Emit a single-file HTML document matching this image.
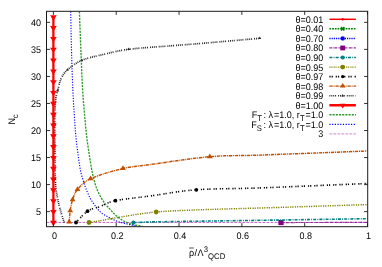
<!DOCTYPE html>
<html><head><meta charset="utf-8"><title>plot</title>
<style>html,body{margin:0;padding:0;background:#fff;}body{width:382px;height:267px;overflow:hidden;font-family:"Liberation Sans", sans-serif;}</style>
</head><body>
<svg width="382" height="267" viewBox="0 0 382 267" style="display:block;will-change:transform">
<rect x="0" y="0" width="382" height="267" fill="#ffffff"/>
<defs><clipPath id="cp"><rect x="46.50" y="11.30" width="321.20" height="215.40"/></clipPath></defs>
<g clip-path="url(#cp)">
<path d="M46.50,222.47 L367.70,222.47" fill="none" stroke="#b040b0" stroke-width="0.90" stroke-linecap="butt" stroke-linejoin="round" stroke-dasharray="2.8 1.2" stroke-opacity="0.85"/>
<path d="M79.40,11.50 L79.47,13.35 L79.56,15.66 L79.66,18.36 L79.78,21.39 L79.90,24.69 L80.04,28.19 L80.18,31.83 L80.32,35.56 L80.47,39.30 L80.62,42.99 L80.76,46.58 L80.90,50.00 L81.03,53.33 L81.16,56.70 L81.29,60.10 L81.42,63.52 L81.55,66.96 L81.68,70.41 L81.82,73.86 L81.97,77.31 L82.13,80.76 L82.30,84.20 L82.49,87.61 L82.70,91.00 L82.93,94.43 L83.18,97.96 L83.46,101.54 L83.74,105.15 L84.04,108.75 L84.35,112.31 L84.66,115.80 L84.97,119.19 L85.27,122.43 L85.56,125.50 L85.84,128.37 L86.10,131.00 L86.34,133.37 L86.57,135.49 L86.79,137.41 L87.00,139.15 L87.20,140.75 L87.41,142.25 L87.61,143.68 L87.81,145.07 L88.02,146.47 L88.24,147.90 L88.46,149.40 L88.70,151.00 L88.95,152.68 L89.20,154.39 L89.47,156.12 L89.73,157.86 L90.01,159.60 L90.28,161.33 L90.56,163.04 L90.84,164.73 L91.13,166.37 L91.42,167.97 L91.71,169.52 L92.00,171.00 L92.29,172.43 L92.59,173.82 L92.90,175.19 L93.20,176.51 L93.51,177.80 L93.82,179.05 L94.14,180.26 L94.45,181.43 L94.77,182.56 L95.08,183.65 L95.39,184.70 L95.70,185.70 L96.01,186.65 L96.31,187.53 L96.62,188.36 L96.92,189.14 L97.22,189.88 L97.53,190.58 L97.83,191.26 L98.14,191.92 L98.45,192.56 L98.76,193.21 L99.08,193.85 L99.40,194.50 L99.73,195.15 L100.06,195.79 L100.39,196.41 L100.73,197.02 L101.06,197.62 L101.41,198.21 L101.75,198.78 L102.10,199.34 L102.44,199.90 L102.79,200.44 L103.15,200.97 L103.50,201.50 L103.85,202.00 L104.18,202.47 L104.50,202.92 L104.82,203.34 L105.14,203.76 L105.47,204.17 L105.81,204.59 L106.17,205.02 L106.55,205.47 L106.97,205.94 L107.41,206.45 L107.90,207.00 L108.43,207.60 L109.00,208.24 L109.61,208.92 L110.24,209.63 L110.90,210.35 L111.58,211.09 L112.27,211.82 L112.97,212.55 L113.66,213.26 L114.35,213.95 L115.04,214.60 L115.70,215.20 L116.35,215.77 L117.01,216.32 L117.67,216.86 L118.33,217.37 L118.98,217.87 L119.64,218.36 L120.30,218.82 L120.96,219.27 L121.62,219.70 L122.28,220.12 L122.94,220.52 L123.60,220.90 L124.27,221.27 L124.94,221.61 L125.63,221.95 L126.32,222.26 L127.01,222.56 L127.70,222.84 L128.38,223.10 L129.04,223.35 L129.69,223.59 L130.32,223.81 L130.93,224.01 L131.50,224.20 L132.04,224.37 L132.56,224.51 L133.04,224.63 L133.51,224.74 L133.96,224.82 L134.40,224.90 L134.83,224.97 L135.26,225.03 L135.68,225.09 L136.11,225.15 L136.55,225.22 L137.00,225.30 L137.48,225.38 L137.98,225.47 L138.50,225.56 L139.04,225.65 L139.57,225.73 L140.09,225.82 L140.60,225.90 L141.07,225.97 L141.51,226.04 L141.90,226.10 L142.23,226.16 L142.50,226.20" fill="none" stroke="#2a9a2a" stroke-width="1.35" stroke-linecap="butt" stroke-linejoin="round" stroke-dasharray="2.1 1.1"/>
<path d="M70.70,11.50 L70.74,13.35 L70.78,15.66 L70.83,18.36 L70.89,21.39 L70.95,24.69 L71.01,28.19 L71.08,31.83 L71.16,35.56 L71.24,39.30 L71.32,42.99 L71.41,46.58 L71.50,50.00 L71.59,53.33 L71.69,56.70 L71.78,60.10 L71.88,63.52 L71.99,66.96 L72.09,70.41 L72.21,73.86 L72.33,77.31 L72.46,80.76 L72.60,84.20 L72.74,87.61 L72.90,91.00 L73.07,94.43 L73.26,97.96 L73.45,101.54 L73.66,105.15 L73.88,108.75 L74.10,112.31 L74.32,115.80 L74.55,119.19 L74.77,122.43 L74.99,125.50 L75.20,128.37 L75.40,131.00 L75.59,133.37 L75.77,135.49 L75.95,137.41 L76.13,139.15 L76.30,140.75 L76.47,142.25 L76.64,143.68 L76.82,145.07 L77.00,146.47 L77.19,147.90 L77.39,149.40 L77.60,151.00 L77.82,152.68 L78.04,154.39 L78.26,156.12 L78.49,157.86 L78.73,159.60 L78.97,161.33 L79.22,163.04 L79.47,164.73 L79.74,166.37 L80.02,167.97 L80.30,169.52 L80.60,171.00 L80.92,172.43 L81.25,173.83 L81.61,175.20 L81.97,176.53 L82.35,177.82 L82.73,179.08 L83.11,180.30 L83.49,181.47 L83.86,182.60 L84.23,183.68 L84.57,184.72 L84.90,185.70 L85.21,186.62 L85.50,187.46 L85.78,188.24 L86.05,188.97 L86.31,189.65 L86.57,190.30 L86.83,190.92 L87.09,191.53 L87.35,192.13 L87.62,192.74 L87.90,193.36 L88.20,194.00 L88.50,194.64 L88.78,195.27 L89.06,195.87 L89.34,196.46 L89.62,197.05 L89.92,197.64 L90.23,198.23 L90.56,198.84 L90.92,199.46 L91.31,200.11 L91.73,200.79 L92.20,201.50 L92.72,202.27 L93.28,203.09 L93.88,203.96 L94.51,204.86 L95.18,205.77 L95.86,206.69 L96.55,207.61 L97.25,208.50 L97.95,209.36 L98.65,210.17 L99.33,210.92 L100.00,211.60 L100.66,212.21 L101.31,212.77 L101.97,213.27 L102.63,213.74 L103.29,214.18 L103.95,214.59 L104.61,214.97 L105.27,215.34 L105.93,215.71 L106.59,216.07 L107.24,216.43 L107.90,216.80 L108.55,217.17 L109.20,217.54 L109.85,217.90 L110.50,218.25 L111.15,218.59 L111.80,218.92 L112.45,219.24 L113.10,219.55 L113.75,219.85 L114.40,220.15 L115.05,220.43 L115.70,220.70 L116.35,220.96 L117.01,221.21 L117.67,221.44 L118.33,221.66 L118.98,221.88 L119.64,222.08 L120.30,222.28 L120.96,222.47 L121.62,222.66 L122.28,222.84 L122.94,223.02 L123.60,223.20 L124.27,223.38 L124.94,223.55 L125.63,223.71 L126.32,223.87 L127.01,224.03 L127.70,224.18 L128.38,224.33 L129.04,224.47 L129.69,224.61 L130.32,224.74 L130.93,224.87 L131.50,225.00 L132.06,225.12 L132.62,225.25 L133.17,225.37 L133.71,225.49 L134.24,225.60 L134.74,225.71 L135.22,225.82 L135.66,225.91 L136.07,226.00 L136.43,226.08 L136.74,226.14 L137.00,226.20" fill="none" stroke="#0000ff" stroke-width="1.15" stroke-linecap="butt" stroke-linejoin="round" stroke-dasharray="1.2 1.5"/>
<path d="M281.00,222.55 L367.70,222.40" fill="none" stroke="#982898" stroke-width="1.20" stroke-linecap="butt" stroke-linejoin="round" stroke-dasharray="2.8 0.7 0.7 0.7"/>
<rect x="278.40" y="219.95" width="5.20" height="5.20" fill="#800080"/>
<path d="M133.40,222.60 L150.00,221.90 L260.00,220.30 L367.50,218.70" fill="none" stroke="#008080" stroke-width="1.60" stroke-linecap="butt" stroke-linejoin="round" stroke-dasharray="3 1.2 0.9 1.1"/>
<circle cx="133.40" cy="222.60" r="2.00" fill="#008080"/>
<path d="M89.00,222.50 L89.49,222.42 L90.03,222.33 L90.65,222.24 L91.33,222.13 L92.09,222.01 L92.94,221.88 L93.87,221.73 L94.89,221.56 L96.01,221.37 L97.23,221.17 L98.56,220.95 L100.00,220.70 L101.57,220.42 L103.28,220.12 L105.12,219.78 L107.07,219.42 L109.11,219.05 L111.24,218.66 L113.43,218.26 L115.69,217.86 L117.99,217.45 L120.31,217.06 L122.66,216.67 L125.00,216.30 L127.34,215.93 L129.70,215.55 L132.07,215.17 L134.47,214.78 L136.92,214.39 L139.43,214.01 L141.99,213.64 L144.64,213.27 L147.37,212.93 L150.20,212.59 L153.14,212.28 L156.20,212.00 L159.33,211.74 L162.47,211.51 L165.65,211.30 L168.90,211.11 L172.23,210.93 L175.67,210.76 L179.25,210.60 L182.99,210.45 L186.91,210.29 L191.04,210.14 L195.39,209.97 L200.00,209.80 L204.83,209.62 L209.83,209.46 L215.01,209.29 L220.37,209.13 L225.92,208.97 L231.64,208.81 L237.56,208.64 L243.66,208.47 L249.95,208.29 L256.44,208.11 L263.12,207.91 L270.00,207.70 L277.47,207.47 L285.79,207.21 L294.73,206.92 L304.07,206.63 L313.61,206.32 L323.12,206.02 L332.39,205.72 L341.20,205.44 L349.34,205.18 L356.57,204.95 L362.70,204.75 L367.50,204.60" fill="none" stroke="#808000" stroke-width="1.45" stroke-linecap="butt" stroke-linejoin="round" stroke-dasharray="1.2 0.9 1.2 1.4"/>
<circle cx="89.00" cy="222.50" r="2.40" fill="#808000"/>
<circle cx="156.20" cy="212.00" r="2.40" fill="#808000"/>
<path d="M76.00,222.50 L76.55,221.93 L77.24,221.19 L78.04,220.31 L78.94,219.33 L79.93,218.26 L80.97,217.14 L82.06,216.01 L83.17,214.90 L84.29,213.83 L85.39,212.83 L86.47,211.95 L87.50,211.20 L88.50,210.58 L89.49,210.05 L90.49,209.59 L91.49,209.19 L92.49,208.83 L93.51,208.51 L94.54,208.20 L95.58,207.90 L96.65,207.60 L97.74,207.27 L98.85,206.91 L100.00,206.50 L101.12,206.05 L102.18,205.58 L103.20,205.10 L104.21,204.61 L105.24,204.11 L106.32,203.60 L107.48,203.09 L108.74,202.59 L110.13,202.10 L111.69,201.62 L113.44,201.15 L115.40,200.70 L117.57,200.27 L119.92,199.87 L122.43,199.48 L125.08,199.11 L127.86,198.74 L130.77,198.38 L133.78,198.01 L136.89,197.64 L140.08,197.25 L143.33,196.86 L146.65,196.44 L150.00,196.00 L153.39,195.52 L156.84,195.00 L160.34,194.45 L163.92,193.89 L167.58,193.31 L171.33,192.72 L175.18,192.15 L179.14,191.60 L183.23,191.08 L187.44,190.60 L191.80,190.17 L196.30,189.80 L200.86,189.50 L205.40,189.26 L209.98,189.08 L214.62,188.94 L219.39,188.83 L224.33,188.74 L229.47,188.65 L234.88,188.56 L240.59,188.45 L246.65,188.31 L253.10,188.13 L260.00,187.90 L267.77,187.61 L276.63,187.26 L286.31,186.87 L296.57,186.46 L307.13,186.02 L317.73,185.58 L328.11,185.15 L338.01,184.73 L347.16,184.35 L355.30,184.01 L362.17,183.72 L367.50,183.50" fill="none" stroke="#000000" stroke-width="1.60" stroke-linecap="butt" stroke-linejoin="round" stroke-dasharray="1.2 1.0 1.2 2.9"/>
<circle cx="76.00" cy="222.50" r="1.90" fill="#000000"/>
<circle cx="87.50" cy="211.20" r="1.90" fill="#000000"/>
<circle cx="115.40" cy="200.70" r="1.90" fill="#000000"/>
<circle cx="196.30" cy="189.80" r="1.90" fill="#000000"/>
<path d="M69.20,222.10 L69.24,221.56 L69.29,220.88 L69.35,220.09 L69.41,219.19 L69.47,218.22 L69.55,217.19 L69.63,216.13 L69.73,215.04 L69.83,213.96 L69.94,212.89 L70.06,211.87 L70.20,210.90 L70.34,209.97 L70.49,209.03 L70.64,208.10 L70.80,207.16 L70.97,206.22 L71.16,205.29 L71.35,204.36 L71.56,203.43 L71.79,202.51 L72.04,201.60 L72.31,200.69 L72.60,199.80 L72.89,198.92 L73.18,198.06 L73.46,197.20 L73.74,196.36 L74.05,195.52 L74.38,194.69 L74.75,193.85 L75.17,193.02 L75.64,192.18 L76.18,191.33 L76.80,190.47 L77.50,189.60 L78.24,188.71 L78.99,187.82 L79.75,186.91 L80.54,185.99 L81.40,185.07 L82.33,184.15 L83.36,183.23 L84.50,182.31 L85.78,181.39 L87.20,180.48 L88.81,179.59 L90.60,178.70 L92.64,177.81 L94.95,176.89 L97.47,175.95 L100.17,175.01 L103.01,174.08 L105.93,173.16 L108.91,172.27 L111.89,171.41 L114.83,170.59 L117.69,169.83 L120.43,169.13 L123.00,168.50 L125.33,167.97 L127.43,167.53 L129.36,167.18 L131.19,166.88 L132.97,166.63 L134.79,166.41 L136.70,166.19 L138.77,165.96 L141.07,165.71 L143.66,165.41 L146.62,165.04 L150.00,164.60 L153.87,164.06 L158.18,163.44 L162.87,162.76 L167.86,162.03 L173.08,161.27 L178.45,160.51 L183.90,159.75 L189.36,159.01 L194.76,158.33 L200.01,157.70 L205.05,157.15 L209.80,156.70 L214.14,156.35 L218.06,156.10 L221.68,155.92 L225.12,155.79 L228.50,155.71 L231.92,155.66 L235.51,155.62 L239.38,155.59 L243.65,155.53 L248.43,155.44 L253.84,155.30 L260.00,155.10 L267.29,154.83 L275.84,154.51 L285.37,154.15 L295.57,153.77 L306.17,153.36 L316.89,152.95 L327.43,152.54 L337.51,152.16 L346.84,151.80 L355.14,151.47 L362.12,151.21 L367.50,151.00" fill="none" stroke="#c05000" stroke-width="1.45" stroke-linecap="butt" stroke-linejoin="round" stroke-dasharray="3.4 0.8 1.0 0.8"/>
<path d="M69.20,218.85 L66.30,223.55 L72.10,223.55 Z" fill="#c05000"/>
<path d="M70.20,207.65 L67.30,212.35 L73.10,212.35 Z" fill="#c05000"/>
<path d="M72.60,196.55 L69.70,201.25 L75.50,201.25 Z" fill="#c05000"/>
<path d="M77.50,186.35 L74.60,191.05 L80.40,191.05 Z" fill="#c05000"/>
<path d="M90.60,175.45 L87.70,180.15 L93.50,180.15 Z" fill="#c05000"/>
<path d="M123.00,165.25 L120.10,169.95 L125.90,169.95 Z" fill="#c05000"/>
<path d="M209.80,153.45 L206.90,158.15 L212.70,158.15 Z" fill="#c05000"/>
<path d="M64.20,222.50 L64.05,222.01 L63.85,221.42 L63.62,220.72 L63.37,219.94 L63.09,219.09 L62.79,218.19 L62.49,217.24 L62.18,216.26 L61.87,215.26 L61.56,214.26 L61.27,213.27 L61.00,212.30 L60.74,211.34 L60.47,210.36 L60.20,209.37 L59.93,208.36 L59.66,207.33 L59.39,206.28 L59.13,205.22 L58.87,204.14 L58.62,203.05 L58.37,201.95 L58.13,200.83 L57.90,199.70 L57.67,198.58 L57.45,197.49 L57.23,196.41 L57.01,195.34 L56.80,194.25 L56.59,193.12 L56.40,191.96 L56.21,190.74 L56.04,189.45 L55.88,188.07 L55.73,186.59 L55.60,185.00 L55.49,183.29 L55.40,181.49 L55.32,179.59 L55.26,177.61 L55.21,175.57 L55.17,173.46 L55.14,171.29 L55.11,169.09 L55.08,166.84 L55.06,164.58 L55.03,162.29 L55.00,160.00 L54.97,157.63 L54.94,155.13 L54.91,152.52 L54.89,149.85 L54.87,147.15 L54.86,144.44 L54.84,141.76 L54.83,139.15 L54.82,136.63 L54.81,134.25 L54.80,132.03 L54.80,130.00 L54.80,128.17 L54.79,126.51 L54.79,124.99 L54.79,123.58 L54.78,122.28 L54.79,121.04 L54.79,119.87 L54.80,118.72 L54.82,117.58 L54.84,116.43 L54.87,115.24 L54.90,114.00 L54.94,112.71 L54.98,111.41 L55.02,110.11 L55.06,108.81 L55.11,107.52 L55.17,106.24 L55.23,104.99 L55.30,103.77 L55.39,102.58 L55.48,101.43 L55.58,100.34 L55.70,99.30 L55.83,98.33 L55.98,97.43 L56.13,96.59 L56.30,95.80 L56.47,95.05 L56.66,94.32 L56.85,93.60 L57.05,92.89 L57.25,92.16 L57.47,91.41 L57.68,90.63 L57.90,89.80 L58.12,88.93 L58.33,88.03 L58.54,87.10 L58.75,86.16 L58.97,85.21 L59.19,84.26 L59.44,83.30 L59.70,82.36 L59.98,81.43 L60.29,80.52 L60.63,79.64 L61.00,78.80 L61.39,77.99 L61.77,77.21 L62.16,76.46 L62.57,75.73 L63.00,75.01 L63.46,74.31 L63.95,73.60 L64.50,72.90 L65.09,72.20 L65.76,71.48 L66.49,70.75 L67.30,70.00 L68.18,69.22 L69.12,68.42 L70.11,67.59 L71.16,66.76 L72.26,65.92 L73.42,65.08 L74.63,64.25 L75.90,63.44 L77.22,62.65 L78.59,61.89 L80.02,61.17 L81.50,60.50 L83.05,59.87 L84.68,59.28 L86.38,58.71 L88.14,58.18 L89.95,57.67 L91.81,57.18 L93.71,56.70 L95.64,56.23 L97.59,55.77 L99.56,55.32 L101.53,54.86 L103.50,54.40 L105.44,53.93 L107.33,53.47 L109.20,53.01 L111.08,52.56 L112.97,52.12 L114.91,51.68 L116.92,51.25 L119.01,50.84 L121.21,50.43 L123.55,50.04 L126.04,49.66 L128.70,49.30 L131.60,48.95 L134.74,48.62 L138.09,48.31 L141.59,48.00 L145.21,47.71 L148.88,47.43 L152.58,47.16 L156.24,46.90 L159.83,46.64 L163.30,46.39 L166.61,46.14 L169.70,45.90 L172.51,45.67 L175.03,45.47 L177.34,45.30 L179.50,45.13 L181.59,44.97 L183.67,44.81 L185.83,44.65 L188.11,44.47 L190.60,44.27 L193.37,44.05 L196.48,43.79 L200.00,43.50 L204.14,43.15 L208.95,42.74 L214.28,42.27 L219.96,41.78 L225.85,41.27 L231.79,40.75 L237.63,40.24 L243.20,39.75 L248.36,39.30 L252.95,38.90 L256.82,38.56 L259.80,38.30" fill="none" stroke="#2a2a2a" stroke-width="1.70" stroke-linecap="butt" stroke-linejoin="round" stroke-dasharray="1.0 0.9 1.0 0.9 1.0 0.9 1.0 2.0"/>
<path d="M57.60,88.82 L56.10,91.25 L59.10,91.25 Z" fill="#2a2a2a"/>
<path d="M67.30,68.32 L65.80,70.75 L68.80,70.75 Z" fill="#2a2a2a"/>
<path d="M81.50,58.82 L80.00,61.25 L83.00,61.25 Z" fill="#2a2a2a"/>
<path d="M128.70,47.62 L127.20,50.05 L130.20,50.05 Z" fill="#2a2a2a"/>
<path d="M259.80,36.62 L258.30,39.05 L261.30,39.05 Z" fill="#2a2a2a"/>
<path d="M53.40,16.94 L53.40,222.47" fill="none" stroke="#ff0000" stroke-width="2.30" stroke-linecap="butt" stroke-linejoin="round"/>
<path d="M53.40,20.64 L50.10,15.29 L56.70,15.29 Z" fill="#ff0000"/>
<path d="M53.40,31.45 L50.10,26.11 L56.70,26.11 Z" fill="#ff0000"/>
<path d="M53.40,42.27 L50.10,36.93 L56.70,36.93 Z" fill="#ff0000"/>
<path d="M53.40,53.09 L50.10,47.74 L56.70,47.74 Z" fill="#ff0000"/>
<path d="M53.40,63.91 L50.10,58.56 L56.70,58.56 Z" fill="#ff0000"/>
<path d="M53.40,74.72 L50.10,69.38 L56.70,69.38 Z" fill="#ff0000"/>
<path d="M53.40,85.54 L50.10,80.19 L56.70,80.19 Z" fill="#ff0000"/>
<path d="M53.40,96.36 L50.10,91.01 L56.70,91.01 Z" fill="#ff0000"/>
<path d="M53.40,107.17 L50.10,101.83 L56.70,101.83 Z" fill="#ff0000"/>
<path d="M53.40,117.99 L50.10,112.65 L56.70,112.65 Z" fill="#ff0000"/>
<path d="M53.40,128.81 L50.10,123.46 L56.70,123.46 Z" fill="#ff0000"/>
<path d="M53.40,139.63 L50.10,134.28 L56.70,134.28 Z" fill="#ff0000"/>
<path d="M53.40,150.44 L50.10,145.10 L56.70,145.10 Z" fill="#ff0000"/>
<path d="M53.40,161.26 L50.10,155.91 L56.70,155.91 Z" fill="#ff0000"/>
<path d="M53.40,172.08 L50.10,166.73 L56.70,166.73 Z" fill="#ff0000"/>
<path d="M53.40,182.90 L50.10,177.55 L56.70,177.55 Z" fill="#ff0000"/>
<path d="M53.40,193.71 L50.10,188.37 L56.70,188.37 Z" fill="#ff0000"/>
<path d="M53.40,204.53 L50.10,199.18 L56.70,199.18 Z" fill="#ff0000"/>
<path d="M53.40,215.35 L50.10,210.00 L56.70,210.00 Z" fill="#ff0000"/>
<path d="M53.40,226.16 L50.10,220.82 L56.70,220.82 Z" fill="#ff0000"/>
</g>
<rect x="46.50" y="11.30" width="321.20" height="215.40" fill="none" stroke="#1a1a1a" stroke-width="1"/>
<path d="M46.50,211.65 h3.60 M367.70,211.65 h-3.60 M46.50,184.61 h3.60 M367.70,184.61 h-3.60 M46.50,157.56 h3.60 M367.70,157.56 h-3.60 M46.50,130.52 h3.60 M367.70,130.52 h-3.60 M46.50,103.48 h3.60 M367.70,103.48 h-3.60 M46.50,76.44 h3.60 M367.70,76.44 h-3.60 M46.50,49.39 h3.60 M367.70,49.39 h-3.60 M46.50,22.35 h3.60 M367.70,22.35 h-3.60 M53.40,226.70 v-3.60 M53.40,11.30 v3.60 M116.22,226.70 v-3.60 M116.22,11.30 v3.60 M179.04,226.70 v-3.60 M179.04,11.30 v3.60 M241.86,226.70 v-3.60 M241.86,11.30 v3.60 M304.68,226.70 v-3.60 M304.68,11.30 v3.60 M367.50,226.70 v-3.60 M367.50,11.30 v3.60 " stroke="#1a1a1a" stroke-width="0.9" fill="none"/>
<g font-family='"Liberation Sans", sans-serif' font-size="9.60" fill="#000" text-rendering="geometricPrecision">
<text transform="translate(41.10,215.15) scale(0.940,1)" text-anchor="end">5</text>
<text transform="translate(41.10,188.11) scale(0.940,1)" text-anchor="end">10</text>
<text transform="translate(41.10,161.06) scale(0.940,1)" text-anchor="end">15</text>
<text transform="translate(41.10,134.02) scale(0.940,1)" text-anchor="end">20</text>
<text transform="translate(41.10,106.98) scale(0.940,1)" text-anchor="end">25</text>
<text transform="translate(41.10,79.94) scale(0.940,1)" text-anchor="end">30</text>
<text transform="translate(41.10,52.89) scale(0.940,1)" text-anchor="end">35</text>
<text transform="translate(41.10,25.85) scale(0.940,1)" text-anchor="end">40</text>
<text transform="translate(54.40,239.30) scale(0.940,1)" text-anchor="middle">0</text>
<text transform="translate(117.22,239.30) scale(0.940,1)" text-anchor="middle">0.2</text>
<text transform="translate(180.04,239.30) scale(0.940,1)" text-anchor="middle">0.4</text>
<text transform="translate(242.86,239.30) scale(0.940,1)" text-anchor="middle">0.6</text>
<text transform="translate(305.68,239.30) scale(0.940,1)" text-anchor="middle">0.8</text>
<text transform="translate(368.50,239.30) scale(0.940,1)" text-anchor="middle">1</text>
<text transform="translate(323.30,22.80) scale(0.940,1)" text-anchor="end">θ=0.01</text>
<text transform="translate(323.30,32.35) scale(0.940,1)" text-anchor="end">θ=0.40</text>
<text transform="translate(323.30,41.90) scale(0.940,1)" text-anchor="end">θ=0.70</text>
<text transform="translate(323.30,51.45) scale(0.940,1)" text-anchor="end">θ=0.80</text>
<text transform="translate(323.30,61.00) scale(0.940,1)" text-anchor="end">θ=0.90</text>
<text transform="translate(323.30,70.55) scale(0.940,1)" text-anchor="end">θ=0.95</text>
<text transform="translate(323.30,80.10) scale(0.940,1)" text-anchor="end">θ=0.97</text>
<text transform="translate(323.30,89.65) scale(0.940,1)" text-anchor="end">θ=0.98</text>
<text transform="translate(323.30,99.20) scale(0.940,1)" text-anchor="end">θ=0.99</text>
<text transform="translate(323.30,108.75) scale(0.940,1)" text-anchor="end">θ=1.00</text>
<text transform="translate(323.30,118.30) scale(0.940,1)" text-anchor="end">F<tspan font-size="8.20" dy="2.9">T</tspan><tspan dy="-2.9" dx="1.8">: λ</tspan><tspan dx="0.8">=1.0, r</tspan><tspan font-size="8.20" dy="2.9" dx="0.4">T</tspan><tspan dy="-2.9" dx="0.75">=1.0</tspan></text>
<text transform="translate(323.30,127.85) scale(0.940,1)" text-anchor="end">F<tspan font-size="8.20" dy="2.9">S</tspan><tspan dy="-2.9" dx="1.8">: λ</tspan><tspan dx="0.8">=1.0, r</tspan><tspan font-size="8.20" dy="2.9" dx="0.4">T</tspan><tspan dy="-2.9" dx="0.75">=1.0</tspan></text>
<text transform="translate(323.30,137.40) scale(0.940,1)" text-anchor="end">3</text>
<text transform="translate(15.30,124.40) rotate(-90) scale(0.940,1)" text-anchor="start">N<tspan font-size="8.20" dy="2.9" dx="-0.4">c</tspan></text>
<text transform="translate(189.10,256.20) scale(0.940,1)" text-anchor="start">ρ<tspan dx="0.4">/</tspan><tspan dx="0.3">Λ</tspan><tspan font-size="8.20" dy="-3.9" dx="0.2">3</tspan><tspan font-size="8.20" dy="6.8" dx="0.1" letter-spacing="0.1">QCD</tspan></text>
</g>
<path d="M189.2,248.0 h4.6" stroke="#000" stroke-width="0.7" fill="none"/>
<path d="M329.40,19.30 H355.90" fill="none" stroke="#ff0000" stroke-width="1.50"/>
<circle cx="342.70" cy="19.30" r="1.20" fill="#ff0000"/>
<path d="M329.40,28.85 H355.90" fill="none" stroke="#008000" stroke-width="1.50" stroke-dasharray="1.8 0.9"/>
<path d="M341.00,27.15 L344.40,30.55 M341.00,30.55 L344.40,27.15" stroke="#008000" stroke-width="1.60" fill="none"/>
<path d="M329.40,38.40 H355.90" fill="none" stroke="#0000ff" stroke-width="1.50" stroke-dasharray="1.2 1.0"/>
<path d="M340.70,38.40 H344.70 M342.70,36.40 V40.40" stroke="#0000ff" stroke-width="1.50" fill="none"/>
<path d="M341.10,36.80 L344.30,40.00 M341.10,40.00 L344.30,36.80" stroke="#0000ff" stroke-width="1.50" fill="none"/>
<path d="M329.40,47.95 H355.90" fill="none" stroke="#982898" stroke-width="1.20" stroke-dasharray="2.8 0.7 0.7 0.7"/>
<rect x="340.30" y="45.55" width="4.80" height="4.80" fill="#800080"/>
<path d="M329.40,57.50 H355.90" fill="none" stroke="#008080" stroke-width="1.40" stroke-dasharray="3 1.2 0.9 1.1"/>
<circle cx="342.70" cy="57.50" r="2.00" fill="#008080"/>
<path d="M329.40,67.05 H355.90" fill="none" stroke="#808000" stroke-width="1.30" stroke-dasharray="1.1 0.8 1.1 1.2"/>
<circle cx="342.70" cy="67.05" r="2.40" fill="#808000"/>
<path d="M329.40,76.60 H355.90" fill="none" stroke="#000000" stroke-width="1.60" stroke-dasharray="1.2 1.0 1.2 2.9"/>
<circle cx="342.70" cy="76.60" r="1.70" fill="#000000"/>
<path d="M329.40,86.15 H355.90" fill="none" stroke="#c05000" stroke-width="1.20" stroke-dasharray="3.4 0.8 1.0 0.8"/>
<path d="M342.70,82.90 L339.80,87.60 L345.60,87.60 Z" fill="#c05000"/>
<path d="M329.40,95.70 H355.90" fill="none" stroke="#2a2a2a" stroke-width="1.50" stroke-dasharray="1.0 0.9 1.0 0.9 1.0 0.9 1.0 2.0"/>
<path d="M342.70,94.02 L341.20,96.45 L344.20,96.45 Z" fill="#2a2a2a"/>
<path d="M329.40,105.25 H355.90" fill="none" stroke="#ff0000" stroke-width="2.50"/>
<path d="M342.70,108.61 L339.70,103.75 L345.70,103.75 Z" fill="#ff0000"/>
<path d="M329.40,114.80 H355.90" fill="none" stroke="#2a9a2a" stroke-width="1.60" stroke-dasharray="2.1 1.1"/>
<path d="M329.40,124.35 H355.90" fill="none" stroke="#0000ff" stroke-width="1.15" stroke-dasharray="1.2 1.5"/>
<path d="M329.40,133.90 H355.90" fill="none" stroke="#c878c8" stroke-width="0.90" stroke-dasharray="2.8 1.2"/>
</svg>
</body></html>
